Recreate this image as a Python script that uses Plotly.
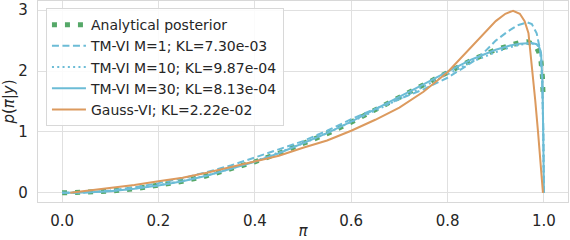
import plotly.graph_objects as go

# ---- data ----
x_grid = [0, 0.05, 0.1, 0.15, 0.2, 0.25, 0.3, 0.35, 0.4, 0.45, 0.5, 0.55, 0.6, 0.65,
          0.7, 0.75, 0.8, 0.85, 0.9, 0.93, 0.95, 0.965, 0.975, 0.985, 0.99, 0.994,
          0.997, 0.9985, 1.0]

analytical_x = x_grid[:-1]
analytical_y = [0, 0.006, 0.028, 0.066, 0.12, 0.19, 0.28, 0.39, 0.51, 0.65, 0.80, 0.97,
                1.16, 1.36, 1.56, 1.77, 1.98, 2.18, 2.35, 2.43, 2.47, 2.48, 2.45, 2.38,
                2.30, 2.15, 1.90, 1.55]

m10_y = [0, 0.006, 0.03, 0.07, 0.125, 0.195, 0.285, 0.395, 0.52, 0.66, 0.81, 0.98,
         1.16, 1.35, 1.54, 1.74, 1.95, 2.15, 2.31, 2.39, 2.43, 2.45, 2.45, 2.43,
         2.40, 2.30, 1.85, 1.10, 0.0]

m30_y = [0, 0.006, 0.028, 0.066, 0.12, 0.19, 0.28, 0.39, 0.51, 0.65, 0.81, 0.98,
         1.17, 1.37, 1.57, 1.78, 1.99, 2.19, 2.35, 2.42, 2.45, 2.46, 2.46, 2.44,
         2.40, 2.30, 1.80, 1.00, 0.0]

m1_x = [0, 0.05, 0.1, 0.15, 0.2, 0.25, 0.3, 0.35, 0.4, 0.45, 0.5, 0.55, 0.6, 0.65, 0.7,
        0.75, 0.8, 0.85, 0.875, 0.9, 0.925, 0.945, 0.965, 0.975, 0.985, 0.992, 0.996,
        0.999, 1.0]
m1_y = [0, 0.01, 0.04, 0.09, 0.16, 0.24, 0.34, 0.45, 0.58, 0.71, 0.85, 1.02, 1.21, 1.38,
        1.54, 1.70, 1.89, 2.14, 2.30, 2.50, 2.65, 2.75, 2.80, 2.77, 2.62, 2.35, 1.90,
        1.00, 0.0]

gauss_x = [0.017, 0.05, 0.1, 0.15, 0.2, 0.25, 0.3, 0.35, 0.4, 0.45, 0.5, 0.55, 0.6, 0.65,
           0.7, 0.75, 0.8, 0.85, 0.875, 0.9, 0.92, 0.936, 0.95, 0.96, 0.968, 0.975,
           0.982, 0.988, 0.994, 0.998]
gauss_y = [0.0, 0.03, 0.08, 0.13, 0.19, 0.25, 0.33, 0.42, 0.51, 0.61, 0.74, 0.86, 1.02,
           1.20, 1.40, 1.66, 1.98, 2.40, 2.62, 2.82, 2.94, 2.99, 2.94, 2.82, 2.62, 2.10,
           1.52, 0.98, 0.43, 0.0]

x_ticks = [0.0, 0.2, 0.4, 0.6, 0.8, 1.0]
y_ticks = [0, 1, 2, 3]

labels = ["Analytical posterior", "TM-VI M=1; KL=7.30e-03", "TM-VI M=10; KL=9.87e-04",
          "TM-VI M=30; KL=8.13e-04", "Gauss-VI; KL=2.22e-02"]

green = "#55a868"
cyan = "#6cbcd6"
orange = "#dc9a5e"

fig = go.Figure()
fig.add_trace(go.Scatter(x=analytical_x, y=analytical_y, mode="lines", name=labels[0],
                         line=dict(color=green, width=5, dash="5px,8px")))
fig.add_trace(go.Scatter(x=m1_x, y=m1_y, mode="lines", name=labels[1],
                         line=dict(color=cyan, width=2, dash="7px,3.5px")))
fig.add_trace(go.Scatter(x=x_grid, y=m10_y, mode="lines", name=labels[2],
                         line=dict(color=cyan, width=2, dash="2px,3.3px")))
fig.add_trace(go.Scatter(x=x_grid, y=m30_y, mode="lines", name=labels[3],
                         line=dict(color=cyan, width=2)))
fig.add_trace(go.Scatter(x=gauss_x, y=gauss_y, mode="lines", name=labels[4],
                         line=dict(color=orange, width=2)))

axis_common = dict(showgrid=True, gridcolor="#e0e0e0", gridwidth=1, zeroline=False,
                   showline=True, linecolor="#d8d8d8", linewidth=1.2, mirror=True,
                   ticks="", tickfont=dict(size=15, color="#262626"), automargin=False)

fig.update_layout(
    width=570, height=240,
    margin=dict(l=38, r=2, t=1, b=38),
    paper_bgcolor="white", plot_bgcolor="white",
    font=dict(family="DejaVu Sans", color="#262626"),
    showlegend=True,
    legend=dict(x=0.015, y=0.965, xanchor="left", yanchor="top",
                itemwidth=34,
                bgcolor="rgba(255,255,255,0.85)", bordercolor="#d8d8d8", borderwidth=1,
                font=dict(size=14, color="#262626")),
    xaxis=dict(range=[-0.05, 1.05], tickvals=x_ticks, tickformat=".1f",
               ticklabelstandoff=5,
               title=dict(text="<i>π</i>", font=dict(size=15), standoff=0),
               **axis_common),
    yaxis=dict(range=[-0.15, 3.15], tickvals=y_ticks, ticklabelstandoff=6,
               title=dict(text="<i>p</i>(<i>π</i>|<i>y</i>)", font=dict(size=15), standoff=0),
               **axis_common),
)

fig.write_html("out.html", config={"displayModeBar": False},
               post_script="document.body.style.margin='0px';")
